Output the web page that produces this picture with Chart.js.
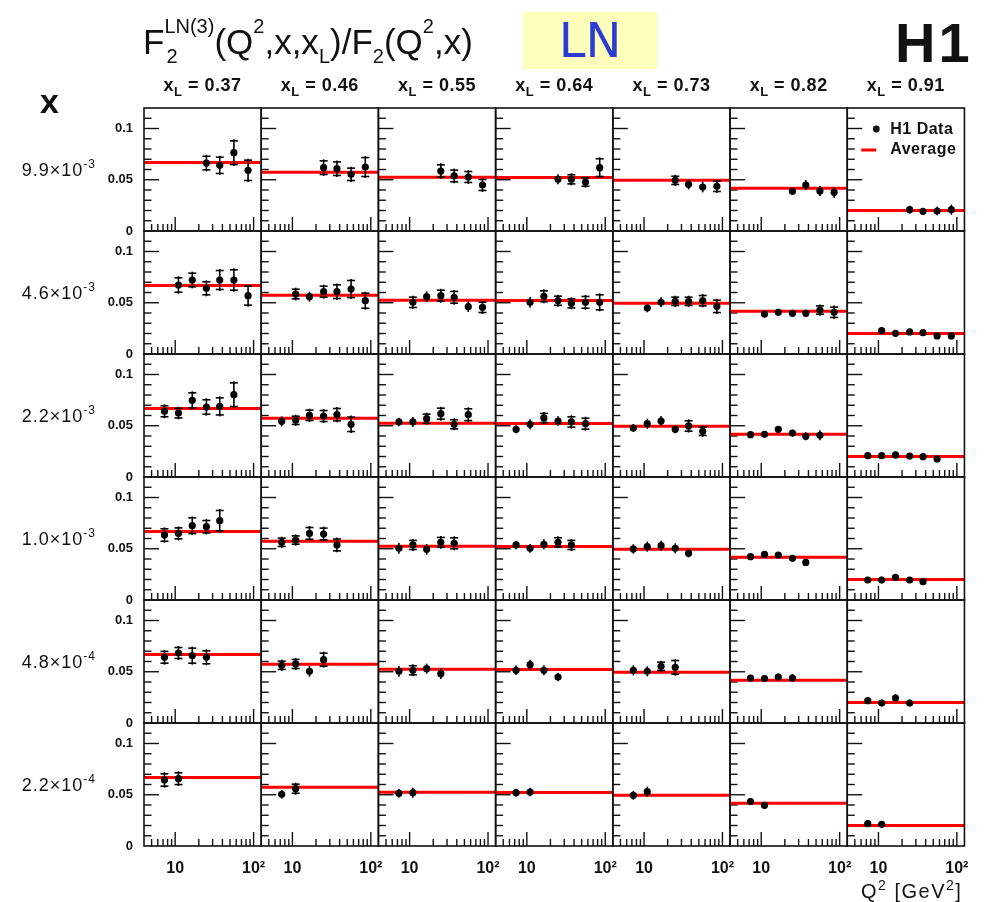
<!DOCTYPE html>
<html lang="en">
<head>
<meta charset="UTF-8" />
<title>F2 LN(3) / F2 ratio</title>
<style>
  body { margin: 0; background: #fff; font-family: "Liberation Sans", Arial, sans-serif; }
  #wrap { position: relative; width: 990px; height: 902px; }
  #chart { position: absolute; left: 0; top: 0; }
  .lbl { position: absolute; color: #111; white-space: nowrap; }
  .title { left: 143px; top: 24px; font-size: 35px; line-height: 35px; }
  .title .sp { font-size: 20px; position: relative; top: -21px; }
  .title .sb { font-size: 20px; position: relative; top: 9px; }
  .title .stk { position: relative; }
  .title .sbabs { position: absolute; left: 2px; top: 24px; font-size: 20px; line-height: 20px; }
  .ln { left: 523px; top: 12px; width: 134px; height: 57px; background: rgb(255,255,188);
        color: #2b3bd6; font-family: "DejaVu Sans", sans-serif; font-size: 48px; line-height: 57px; text-align: center; }
  .h1 { left: 895px; top: 15px; font-size: 56px; line-height: 56px; font-weight: bold; letter-spacing: 3px; }
  .xvar { left: 40px; top: 84px; font-size: 34px; line-height: 34px; font-weight: bold; }
  .qlab { left: 861px; top: 881px; font-size: 20px; line-height: 20px; letter-spacing: 1.5px; }
  .qlab .sp { font-size: 14px; position: relative; top: -8px; }
</style>
</head>
<body>
<div id="wrap">
  <canvas id="chart" width="990" height="902"></canvas>
  <div class="lbl title">F<span class="stk"><span class="sp">LN(3)</span><span class="sbabs">2</span></span>(Q<span class="sp">2</span>,x,x<span class="sb">L</span>)/F<span class="sb">2</span>(Q<span class="sp">2</span>,x)</div>
  <div class="lbl ln">LN</div>
  <div class="lbl h1">H1</div>
  <div class="lbl xvar">x</div>
  <div class="lbl qlab">Q<span class="sp">2</span> [GeV<span class="sp">2</span>]</div>
</div>

<script src="https://cdn.jsdelivr.net/npm/chart.js@4.4.1/dist/chart.umd.min.js"></script>
<script>
// column and row labels
const xLValues = ['0.37', '0.46', '0.55', '0.64', '0.73', '0.82', '0.91'];
const xBins = [['9.9', '-3'], ['4.6', '-3'], ['2.2', '-3'], ['1.0', '-3'], ['4.8', '-4'], ['2.2', '-4']];

// axis ranges and tick marks
const q2Min = 4, q2Max = 125;
const q2Ticks = [5, 6, 7, 8, 9, 10, 20, 30, 40, 50, 60, 70, 80, 90, 100];
const ratioMin = 0, ratioMax = 0.12;

// Q2 points measured in each x row
const q2Row = [
  [25, 37, 56, 85],
  [11, 16.5, 25, 37, 56, 85],
  [7.3, 11, 16.5, 25, 37, 56],
  [7.3, 11, 16.5, 25, 37],
  [7.3, 11, 16.5, 25],
  [7.3, 11]
];

// average over each xL column (red lines)
const averages = [0.0668, 0.0573, 0.0525, 0.0523, 0.0494, 0.0418, 0.0200];

// ratio values, one sub array per xL column
const ratioRow1 = [
  [0.0663, 0.0641, 0.0764, 0.0592],
  [0.0618, 0.0608, 0.0553, 0.0624],
  [0.0585, 0.0537, 0.0527, 0.0449],
  [0.0504, 0.0504, 0.0478, 0.0618],
  [0.0494, 0.0455, 0.0429, 0.0436],
  [0.0387, 0.0449, 0.0390, 0.0377],
  [0.0208, 0.0192, 0.0195, 0.0208]
];
const errRow1 = [
  [0.0081, 0.0094, 0.0130, 0.0114],
  [0.0081, 0.0081, 0.0075, 0.0107],
  [0.0075, 0.0072, 0.0068, 0.0068],
  [0.0049, 0.0059, 0.0055, 0.0101],
  [0.0055, 0.0049, 0.0052, 0.0065],
  [0.0036, 0.0049, 0.0049, 0.0052],
  [0.0039, 0.0029, 0.0042, 0.0049]
];

const ratioRow2 = [
  [0.0673, 0.0722, 0.0641, 0.0722, 0.0722, 0.0569],
  [0.0585, 0.0559, 0.0608, 0.0608, 0.0634, 0.0520],
  [0.0504, 0.0559, 0.0569, 0.0553, 0.0462, 0.0455],
  [0.0504, 0.0563, 0.0520, 0.0494, 0.0504, 0.0504],
  [0.0449, 0.0504, 0.0514, 0.0514, 0.0520, 0.0465],
  [0.0390, 0.0407, 0.0397, 0.0397, 0.0429, 0.0407],
  [0.0228, 0.0202, 0.0215, 0.0208, 0.0176, 0.0176]
];
const errRow2 = [
  [0.0085, 0.0081, 0.0078, 0.0107, 0.0114, 0.0107],
  [0.0062, 0.0049, 0.0068, 0.0081, 0.0098, 0.0088],
  [0.0065, 0.0052, 0.0068, 0.0072, 0.0052, 0.0065],
  [0.0052, 0.0068, 0.0059, 0.0059, 0.0072, 0.0088],
  [0.0042, 0.0049, 0.0055, 0.0055, 0.0065, 0.0075],
  [0.0026, 0.0033, 0.0036, 0.0036, 0.0055, 0.0065],
  [0.0026, 0.0026, 0.0026, 0.0026, 0.0026, 0.0033]
];

const ratioRow3 = [
  [0.0641, 0.0624, 0.0748, 0.0683, 0.0689, 0.0803],
  [0.0543, 0.0553, 0.0602, 0.0595, 0.0608, 0.0514],
  [0.0537, 0.0537, 0.0569, 0.0618, 0.0514, 0.0608],
  [0.0465, 0.0514, 0.0576, 0.0546, 0.0537, 0.0520],
  [0.0478, 0.0520, 0.0546, 0.0465, 0.0498, 0.0446],
  [0.0413, 0.0416, 0.0465, 0.0429, 0.0397, 0.0407],
  [0.0208, 0.0208, 0.0215, 0.0205, 0.0198, 0.0176]
];
const errRow3 = [
  [0.0068, 0.0062, 0.0088, 0.0085, 0.0098, 0.0130],
  [0.0049, 0.0055, 0.0065, 0.0068, 0.0075, 0.0085],
  [0.0042, 0.0049, 0.0059, 0.0068, 0.0059, 0.0072],
  [0.0039, 0.0049, 0.0059, 0.0046, 0.0065, 0.0068],
  [0.0039, 0.0049, 0.0049, 0.0039, 0.0065, 0.0055],
  [0.0026, 0.0026, 0.0033, 0.0033, 0.0039, 0.0049],
  [0.0026, 0.0026, 0.0033, 0.0026, 0.0026, 0.0033]
];

const ratioRow4 = [
  [0.0634, 0.0650, 0.0725, 0.0715, 0.0774],
  [0.0563, 0.0585, 0.0650, 0.0644, 0.0537],
  [0.0504, 0.0537, 0.0494, 0.0563, 0.0553],
  [0.0537, 0.0504, 0.0543, 0.0563, 0.0537],
  [0.0498, 0.0520, 0.0530, 0.0504, 0.0455],
  [0.0423, 0.0446, 0.0439, 0.0407, 0.0367],
  [0.0195, 0.0195, 0.0221, 0.0195, 0.0179]
];
const errRow4 = [
  [0.0075, 0.0068, 0.0091, 0.0075, 0.0114],
  [0.0055, 0.0055, 0.0072, 0.0072, 0.0072],
  [0.0052, 0.0059, 0.0052, 0.0062, 0.0068],
  [0.0042, 0.0042, 0.0049, 0.0059, 0.0059],
  [0.0046, 0.0049, 0.0049, 0.0049, 0.0039],
  [0.0023, 0.0026, 0.0029, 0.0029, 0.0033],
  [0.0026, 0.0033, 0.0033, 0.0026, 0.0033]
];

const ratioRow5 = [
  [0.0641, 0.0683, 0.0657, 0.0641],
  [0.0563, 0.0576, 0.0504, 0.0618],
  [0.0504, 0.0514, 0.0530, 0.0481],
  [0.0514, 0.0569, 0.0514, 0.0449],
  [0.0514, 0.0504, 0.0553, 0.0543],
  [0.0439, 0.0433, 0.0449, 0.0439],
  [0.0218, 0.0195, 0.0244, 0.0195]
];
const errRow5 = [
  [0.0072, 0.0068, 0.0088, 0.0078],
  [0.0055, 0.0059, 0.0052, 0.0078],
  [0.0052, 0.0059, 0.0049, 0.0052],
  [0.0046, 0.0049, 0.0049, 0.0042],
  [0.0049, 0.0049, 0.0055, 0.0081],
  [0.0023, 0.0026, 0.0033, 0.0039],
  [0.0033, 0.0033, 0.0039, 0.0033]
];

const ratioRow6 = [
  [0.0644, 0.0657],
  [0.0504, 0.0559],
  [0.0514, 0.0520],
  [0.0520, 0.0527],
  [0.0494, 0.0530],
  [0.0433, 0.0397],
  [0.0218, 0.0211]
];
const errRow6 = [
  [0.0075, 0.0072],
  [0.0042, 0.0059],
  [0.0042, 0.0049],
  [0.0039, 0.0042],
  [0.0042, 0.0049],
  [0.0020, 0.0020],
  [0.0033, 0.0033]
];

const ratios = [ratioRow1, ratioRow2, ratioRow3, ratioRow4, ratioRow5, ratioRow6];
const errors = [errRow1, errRow2, errRow3, errRow4, errRow5, errRow6];

const FONT = '"Liberation Sans", Arial, sans-serif';
const INK = '#111';

// build one scatter + one average line per panel
const datasets = [];
for (let r = 0; r < q2Row.length; r++) {
  for (let c = 0; c < xLValues.length; c++) {
    datasets.push({
      type: 'scatter',
      data: q2Row[r].map((q, i) => ({ x: q, y: ratios[r][c][i] })),
      errs: errors[r][c],
      xAxisID: 'x' + c,
      yAxisID: 'y' + r,
      pointRadius: 3.6,
      pointBackgroundColor: '#000',
      pointBorderWidth: 0,
      order: 0
    });
    datasets.push({
      type: 'line',
      data: [{ x: q2Min, y: averages[c] }, { x: q2Max, y: averages[c] }],
      xAxisID: 'x' + c,
      yAxisID: 'y' + r,
      borderColor: '#ff0000',
      borderWidth: 3,
      pointRadius: 0,
      order: 1
    });
  }
}

// stacked axes give the grid: 7 columns along x, 6 rows along y
const scales = {};
xLValues.forEach((v, c) => {
  scales['x' + c] = {
    type: 'logarithmic',
    position: 'bottom',
    stack: 'cols',
    stackWeight: 1,
    min: q2Min,
    max: q2Max,
    grid: { display: false, drawTicks: false },
    border: { display: false },
    afterBuildTicks: (s) => { s.ticks = q2Ticks.map(t => ({ value: t })); },
    ticks: {
      autoSkip: false,
      maxRotation: 0,
      padding: 13,
      color: INK,
      font: { family: FONT, size: 16, weight: 'bold' },
      callback: (val) => {
        if (Math.abs(val - 10) < 1e-6) return '10';
        if (Math.abs(val - 100) < 1e-6) return '10²';
        return '';
      }
    },
    afterFit: (s) => { s.height = 40; }
  };
});
xBins.forEach((b, r) => {
  scales['y' + r] = {
    type: 'linear',
    position: 'left',
    stack: 'rows',
    stackWeight: 1,
    weight: xBins.length - r,
    min: ratioMin,
    max: ratioMax,
    grid: { display: false, drawTicks: false },
    border: { display: false },
    ticks: {
      stepSize: 0.01,
      autoSkip: false,
      padding: 11,
      color: INK,
      font: { family: FONT, size: 13, weight: 'bold' },
      callback: (val) => {
        const k = Math.round(val * 100);
        if (k === 0) return '0';
        if (k === 5) return '0.05';
        if (k === 10) return '0.1';
        return '';
      }
    },
    afterFit: (s) => { s.width = 50; }
  };
});

function line(ctx, x1, y1, x2, y2) {
  ctx.beginPath();
  ctx.moveTo(x1, y1);
  ctx.lineTo(x2, y2);
  ctx.stroke();
}

const panelPlugin = {
  id: 'panels',
  beforeDatasetsDraw(chart) {
    const ctx = chart.ctx;
    ctx.save();
    ctx.strokeStyle = INK;
    ctx.lineWidth = 1.4;
    for (let r = 0; r < xBins.length; r++) {
      const ys = chart.scales['y' + r];
      for (let c = 0; c < xLValues.length; c++) {
        const xs = chart.scales['x' + c];
        // y ticks inside the panel
        ys.ticks.forEach(t => {
          const k = Math.round(t.value * 100);
          if (k <= 0 || k >= 12) return;
          const py = ys.getPixelForValue(t.value);
          line(ctx, xs.left, py, xs.left + (k % 5 === 0 ? 15 : 7.5), py);
        });
        // x ticks inside the panel
        xs.ticks.forEach(t => {
          const v = t.value;
          const lg = Math.log10(v);
          const major = Math.abs(lg - Math.round(lg)) < 1e-6;
          const px = xs.getPixelForValue(v);
          line(ctx, px, ys.bottom, px, ys.bottom - (major ? 14 : 7));
        });
      }
    }
    ctx.restore();
  },
  afterDatasetsDraw(chart) {
    const ctx = chart.ctx;
    ctx.save();
    ctx.strokeStyle = '#000';
    ctx.lineWidth = 1.6;
    // error bars
    chart.data.datasets.forEach((ds, i) => {
      if (!ds.errs) return;
      const meta = chart.getDatasetMeta(i);
      const ys = chart.scales[ds.yAxisID];
      meta.data.forEach((pt, j) => {
        const v = ds.data[j].y, e = ds.errs[j];
        const top = ys.getPixelForValue(v + e);
        const bot = ys.getPixelForValue(v - e);
        line(ctx, pt.x, top, pt.x, bot);
        if ((bot - top) / 2 > 5.5) {
          line(ctx, pt.x - 4, top + 1.5, pt.x + 4, top + 1.5);
          line(ctx, pt.x - 4, bot - 1.5, pt.x + 4, bot - 1.5);
        }
      });
    });
    // panel frames
    ctx.strokeStyle = INK;
    ctx.lineWidth = 1.6;
    for (let r = 0; r < xBins.length; r++) {
      const ys = chart.scales['y' + r];
      for (let c = 0; c < xLValues.length; c++) {
        const xs = chart.scales['x' + c];
        ctx.strokeRect(xs.left, ys.top, xs.right - xs.left, ys.bottom - ys.top);
      }
    }
    ctx.restore();
  },
  afterDraw(chart) {
    const ctx = chart.ctx;
    ctx.save();
    ctx.fillStyle = INK;
    ctx.textBaseline = 'alphabetic';
    // column headers: x_L = ...
    ctx.letterSpacing = '0.5px';
    xLValues.forEach((v, c) => {
      const xs = chart.scales['x' + c];
      const big = 'bold 18px ' + FONT, small = 'bold 13px ' + FONT;
      const rest = ' = ' + v;
      ctx.font = big; const wx = ctx.measureText('x').width; const wr = ctx.measureText(rest).width;
      ctx.font = small; const wl = ctx.measureText('L').width;
      const x0 = (xs.left + xs.right) / 2 - (wx + wl + wr) / 2;
      const base = 91;
      ctx.font = big; ctx.fillText('x', x0, base);
      ctx.font = small; ctx.fillText('L', x0 + wx, base + 5);
      ctx.font = big; ctx.fillText(rest, x0 + wx + wl, base);
    });
    // row headers: x bin values
    ctx.letterSpacing = '1px';
    xBins.forEach((b, r) => {
      const ys = chart.scales['y' + r];
      const base = ys.top + 68;
      const main = b[0] + '×10';
      ctx.font = '18px ' + FONT; const wm = ctx.measureText(main).width;
      ctx.font = '12px ' + FONT; const ws = ctx.measureText(b[1]).width;
      const right = 96;
      ctx.font = '18px ' + FONT; ctx.fillText(main, right - wm - ws, base);
      ctx.font = '12px ' + FONT; ctx.fillText(b[1], right - ws, base - 8);
    });
    // legend in the top right panel
    ctx.letterSpacing = '0.5px';
    const lx = chart.scales['x' + (xLValues.length - 1)].left;
    const ly = chart.scales['y0'].top;
    ctx.beginPath();
    ctx.arc(lx + 29, ly + 21, 3.4, 0, Math.PI * 2);
    ctx.fill();
    ctx.strokeStyle = '#ff0000';
    ctx.lineWidth = 3;
    line(ctx, lx + 14, ly + 42, lx + 29, ly + 42);
    ctx.font = 'bold 16px ' + FONT;
    ctx.textBaseline = 'middle';
    ctx.fillText('H1 Data', lx + 43, ly + 22);
    ctx.fillText('Average', lx + 43, ly + 42);
    ctx.restore();
  }
};

new Chart(document.getElementById('chart'), {
  type: 'scatter',
  data: { datasets: datasets },
  options: {
    responsive: false,
    animation: false,
    events: [],
    layout: { padding: { left: 94, right: 24, top: 108, bottom: 16 } },
    plugins: { legend: { display: false }, tooltip: { enabled: false } },
    scales: scales
  },
  plugins: [panelPlugin]
});
</script>
</body>
</html>
